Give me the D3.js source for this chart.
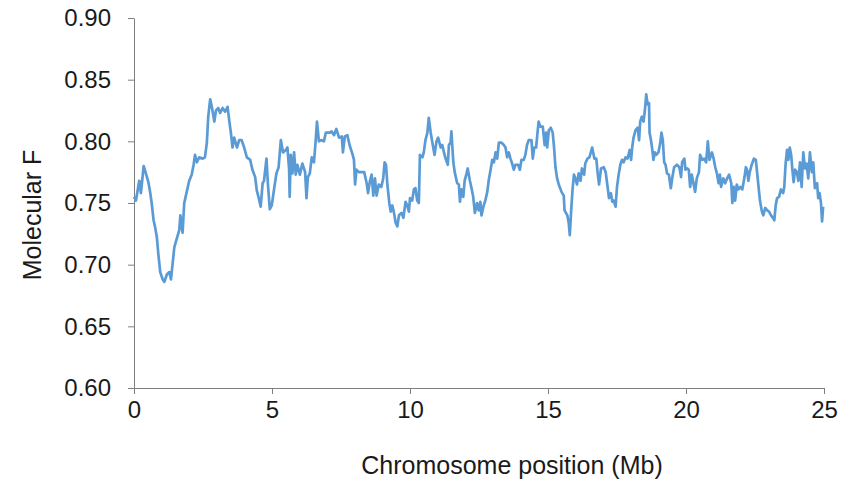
<!DOCTYPE html>
<html>
<head>
<meta charset="utf-8">
<script src="https://cdn.jsdelivr.net/npm/d3@7"></script>
<style>
  body { margin: 0; background: #fff; }
  text { font-family: "Liberation Sans", Arial, sans-serif; }
</style>
</head>
<body>
<div id="root"></div>
<script>
// chromosome position (Mb) and molecular F
const positions = [
  0.00, 0.07, 0.13, 0.19, 0.25, 0.35, 0.43, 0.52, 0.59, 0.64, 0.71, 0.76, 0.83, 0.88, 0.95, 1.04, 1.10, 1.19, 1.28, 1.34,
  1.40, 1.46, 1.56, 1.64, 1.68, 1.76, 1.82, 1.92, 2.00, 2.09, 2.16, 2.21, 2.28, 2.36, 2.49, 2.57, 2.64, 2.69, 2.76, 2.82,
  2.91, 2.97, 3.05, 3.12, 3.21, 3.30, 3.39, 3.45, 3.51, 3.57, 3.63, 3.73, 3.81, 3.90, 3.99, 4.09, 4.21, 4.29, 4.39, 4.45,
  4.51, 4.59, 4.66, 4.71, 4.80, 4.85, 4.92, 4.99, 5.08, 5.16, 5.24, 5.32, 5.40, 5.50, 5.56, 5.62, 5.64, 5.68, 5.74, 5.80,
  5.86, 5.92, 6.01, 6.10, 6.20, 6.25, 6.30, 6.37, 6.44, 6.52, 6.58, 6.63, 6.70, 6.80, 6.88, 6.95, 7.07, 7.16, 7.25, 7.33,
  7.43, 7.53, 7.57, 7.64, 7.73, 7.81, 7.91, 7.97, 8.01, 8.06, 8.15, 8.25, 8.34, 8.43, 8.48, 8.55, 8.61, 8.67, 8.73, 8.79,
  8.87, 8.96, 9.03, 9.08, 9.13, 9.18, 9.25, 9.30, 9.36, 9.42, 9.48, 9.54, 9.60, 9.69, 9.76, 9.84, 9.90, 9.96, 10.00, 10.08,
  10.14, 10.20, 10.26, 10.32, 10.36, 10.45, 10.50, 10.56, 10.63, 10.68, 10.75, 10.81, 10.89, 10.96, 11.02, 11.11, 11.17, 11.23, 11.29, 11.37,
  11.41, 11.47, 11.50, 11.57, 11.62, 11.71, 11.77, 11.81, 11.86, 11.93, 11.98, 12.05, 12.09, 12.17, 12.23, 12.29, 12.35, 12.43, 12.49, 12.55,
  12.59, 12.67, 12.73, 12.80, 12.85, 12.92, 12.98, 13.04, 13.10, 13.16, 13.22, 13.31, 13.40, 13.46, 13.52, 13.58, 13.64, 13.70, 13.76, 13.82,
  13.92, 13.98, 14.04, 14.12, 14.18, 14.24, 14.30, 14.40, 14.45, 14.50, 14.57, 14.62, 14.66, 14.72, 14.81, 14.88, 14.93, 14.97, 15.03, 15.10,
  15.17, 15.22, 15.27, 15.33, 15.39, 15.49, 15.57, 15.60, 15.65, 15.70, 15.75, 15.79, 15.84, 15.89, 15.94, 15.99, 16.05, 16.11, 16.18, 16.23,
  16.31, 16.35, 16.43, 16.50, 16.60, 16.68, 16.75, 16.80, 16.85, 16.92, 17.02, 17.09, 17.16, 17.21, 17.28, 17.33, 17.38, 17.45, 17.50, 17.56,
  17.62, 17.68, 17.74, 17.81, 17.88, 17.96, 18.01, 18.05, 18.10, 18.17, 18.25, 18.30, 18.34, 18.40, 18.46, 18.51, 18.56, 18.61, 18.66, 18.68,
  18.73, 18.78, 18.82, 18.87, 18.92, 19.00, 19.07, 19.11, 19.16, 19.21, 19.26, 19.31, 19.38, 19.45, 19.50, 19.57, 19.67, 19.76, 19.82, 19.86,
  19.94, 19.98, 20.05, 20.10, 20.15, 20.21, 20.27, 20.33, 20.39, 20.47, 20.51, 20.59, 20.66, 20.73, 20.79, 20.85, 20.94, 21.00, 21.06, 21.12,
  21.18, 21.23, 21.27, 21.35, 21.42, 21.49, 21.56, 21.64, 21.68, 21.73, 21.78, 21.84, 21.90, 21.97, 22.04, 22.12, 22.17, 22.21, 22.26, 22.31,
  22.38, 22.46, 22.53, 22.58, 22.62, 22.68, 22.75, 22.80, 22.87, 22.94, 23.01, 23.08, 23.15, 23.20, 23.25, 23.30, 23.37, 23.44, 23.52, 23.56,
  23.61, 23.66, 23.71, 23.76, 23.81, 23.85, 23.90, 23.95, 24.02, 24.07, 24.13, 24.19, 24.25, 24.31, 24.37, 24.43, 24.49, 24.56, 24.61, 24.67,
  24.75, 24.79, 24.84, 24.89, 24.93, 24.97
];

const molecularF = [
  0.755, 0.752, 0.760, 0.768, 0.758, 0.780, 0.774, 0.767, 0.758, 0.750, 0.736, 0.731, 0.722, 0.709, 0.694, 0.688, 0.686, 0.692, 0.694, 0.688,
  0.701, 0.714, 0.722, 0.728, 0.740, 0.726, 0.750, 0.760, 0.768, 0.773, 0.781, 0.789, 0.783, 0.787, 0.786, 0.787, 0.799, 0.820, 0.834, 0.828,
  0.816, 0.825, 0.827, 0.823, 0.827, 0.824, 0.828, 0.817, 0.807, 0.795, 0.803, 0.795, 0.801, 0.801, 0.795, 0.787, 0.785, 0.777, 0.771, 0.760,
  0.755, 0.747, 0.766, 0.768, 0.786, 0.766, 0.745, 0.748, 0.762, 0.774, 0.779, 0.801, 0.791, 0.793, 0.795, 0.777, 0.755, 0.789, 0.774, 0.791,
  0.773, 0.781, 0.773, 0.782, 0.775, 0.754, 0.771, 0.774, 0.787, 0.783, 0.800, 0.816, 0.800, 0.801, 0.800, 0.807, 0.807, 0.808, 0.805, 0.810,
  0.803, 0.804, 0.791, 0.804, 0.805, 0.797, 0.790, 0.785, 0.765, 0.777, 0.775, 0.775, 0.775, 0.766, 0.758, 0.768, 0.773, 0.756, 0.770, 0.756,
  0.765, 0.763, 0.770, 0.783, 0.781, 0.765, 0.750, 0.743, 0.748, 0.742, 0.734, 0.731, 0.740, 0.742, 0.738, 0.751, 0.748, 0.743, 0.754, 0.752,
  0.761, 0.762, 0.752, 0.750, 0.789, 0.787, 0.791, 0.801, 0.807, 0.819, 0.807, 0.799, 0.789, 0.800, 0.803, 0.795, 0.797, 0.791, 0.786, 0.781,
  0.797, 0.799, 0.808, 0.783, 0.775, 0.766, 0.765, 0.751, 0.761, 0.755, 0.768, 0.774, 0.778, 0.768, 0.762, 0.755, 0.742, 0.750, 0.744, 0.751,
  0.740, 0.748, 0.752, 0.759, 0.768, 0.777, 0.785, 0.783, 0.791, 0.786, 0.799, 0.799, 0.797, 0.795, 0.787, 0.791, 0.786, 0.782, 0.777, 0.781,
  0.781, 0.777, 0.785, 0.785, 0.789, 0.797, 0.801, 0.801, 0.786, 0.795, 0.795, 0.807, 0.816, 0.812, 0.812, 0.797, 0.807, 0.795, 0.809, 0.811,
  0.807, 0.795, 0.779, 0.770, 0.765, 0.759, 0.756, 0.744, 0.742, 0.740, 0.734, 0.724, 0.744, 0.761, 0.773, 0.770, 0.765, 0.774, 0.768, 0.778,
  0.773, 0.782, 0.786, 0.787, 0.795, 0.786, 0.786, 0.774, 0.765, 0.778, 0.779, 0.775, 0.763, 0.754, 0.758, 0.751, 0.752, 0.747, 0.763, 0.773,
  0.781, 0.785, 0.783, 0.787, 0.786, 0.793, 0.785, 0.795, 0.803, 0.809, 0.811, 0.801, 0.816, 0.820, 0.816, 0.825, 0.838, 0.830, 0.831, 0.807,
  0.801, 0.793, 0.785, 0.791, 0.789, 0.791, 0.799, 0.807, 0.801, 0.783, 0.781, 0.774, 0.773, 0.762, 0.770, 0.779, 0.781, 0.779, 0.771, 0.783,
  0.786, 0.777, 0.778, 0.777, 0.763, 0.773, 0.766, 0.759, 0.770, 0.775, 0.789, 0.785, 0.786, 0.783, 0.800, 0.785, 0.791, 0.786, 0.779, 0.774,
  0.766, 0.773, 0.763, 0.770, 0.766, 0.770, 0.773, 0.766, 0.750, 0.763, 0.752, 0.765, 0.761, 0.763, 0.761, 0.771, 0.779, 0.777, 0.768, 0.775,
  0.781, 0.786, 0.785, 0.774, 0.765, 0.752, 0.743, 0.740, 0.746, 0.744, 0.743, 0.740, 0.738, 0.736, 0.748, 0.754, 0.755, 0.761, 0.758, 0.763,
  0.782, 0.793, 0.785, 0.795, 0.789, 0.778, 0.767, 0.777, 0.775, 0.768, 0.783, 0.763, 0.791, 0.778, 0.782, 0.770, 0.791, 0.775, 0.783, 0.762,
  0.766, 0.754, 0.758, 0.750, 0.735, 0.747
];

const xTicks = [0, 5, 10, 15, 20, 25];
const yTicks = [0.60, 0.65, 0.70, 0.75, 0.80, 0.85, 0.90];

const data = positions.map((p, i) => ({ pos: p, f: molecularF[i] }));

const width = 859, height = 480;
const margin = { top: 18, right: 35, bottom: 92, left: 134 };

const svg = d3.select("#root").append("svg")
  .attr("width", width)
  .attr("height", height);

const xScale = d3.scaleLinear().domain([0, 25]).range([margin.left, width - margin.right]);
const yScale = d3.scaleLinear().domain([0.6, 0.9]).range([height - margin.bottom, margin.top]);

const axisColor = "#7f7f7f";

let yAxis = d3.axisLeft(yScale).tickValues(yTicks).tickFormat(d3.format(".2f"))
  .tickSize(6).tickSizeOuter(0).tickPadding(17);
let xAxis = d3.axisBottom(xScale).tickValues(xTicks).tickFormat(d3.format("d"))
  .tickSize(6).tickSizeOuter(0).tickPadding(7);

let axes = svg.append("g").classed("axes", true);

axes.append("g")
  .attr("class", "y-axis")
  .attr("transform", `translate(${margin.left}, 0)`)
  .call(yAxis);

axes.append("g")
  .attr("class", "x-axis")
  .attr("transform", `translate(0, ${height - margin.bottom})`)
  .call(xAxis);

axes.selectAll("path, line").attr("stroke", axisColor).attr("stroke-width", 1);
axes.selectAll("text")
  .attr("fill", "#1a1a1a")
  .style("font-size", "24px")
  .style("font-family", "'Liberation Sans', Arial, sans-serif");

// the series
const line = d3.line()
  .x(d => xScale(d.pos))
  .y(d => yScale(d.f));

svg.append("path")
  .datum(data)
  .attr("fill", "none")
  .attr("stroke", "#5b9bd5")
  .attr("stroke-width", 2.7)
  .attr("stroke-linejoin", "round")
  .attr("d", line);

// axis titles
svg.append("text")
  .attr("x", 512)
  .attr("y", 474)
  .attr("text-anchor", "middle")
  .attr("fill", "#1a1a1a")
  .style("font-size", "25px")
  .text("Chromosome position (Mb)");

svg.append("text")
  .attr("transform", "translate(41, 215) rotate(-90)")
  .attr("text-anchor", "middle")
  .attr("fill", "#1a1a1a")
  .style("font-size", "25px")
  .text("Molecular F");
</script>
</body>
</html>
